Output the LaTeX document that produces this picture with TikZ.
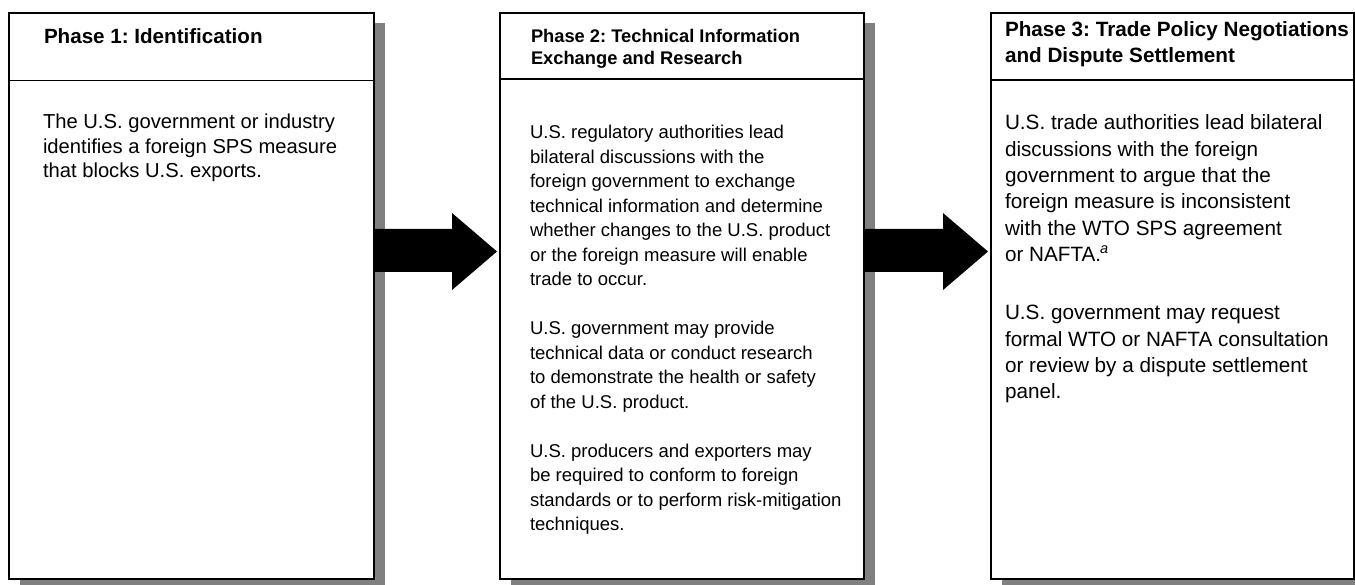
\documentclass[tikz,border=0pt]{standalone}
\usepackage{fontspec}
\setmainfont{Liberation Sans}
\usetikzlibrary{shadows,calc}
\definecolor{shadowgray}{RGB}{128,128,128}
\frenchspacing
\tikzset{
  phasebox/.style={draw=black, line width=1.8pt, fill=white, inner sep=0pt, outer sep=0pt,
    drop shadow={shadow xshift=11pt, shadow yshift=-10pt, fill=shadowgray, opacity=1}},
  divider/.style={draw=black, line width=1.6pt},
  txt/.style={anchor=base west, inner sep=0pt, outer sep=0pt, text=black},
  blockarrow/.style={fill=black, draw=none}
}
\newcommand{\mylines}[3]{\parbox[t]{400pt}{\fontsize{#1}{#2}\selectfont\raggedright\frenchspacing #3}}
\begin{document}
\begin{tikzpicture}[x=1pt, y=-1pt]
\useasboundingbox (0,0) rectangle (1355,585);
% boxes
\node[phasebox, minimum width=365pt, minimum height=566pt] (b1) at (191.5,296) {};
\node[phasebox, minimum width=364pt, minimum height=566pt] (b2) at (682,296) {};
\node[phasebox, minimum width=363pt, minimum height=566pt] (b3) at (1172.5,296) {};
% dividers
\draw[divider] (b1.west |- 0,80.5) -- (b1.east |- 0,80.5);
\draw[divider] (b2.west |- 0,79) -- (b2.east |- 0,79);
\draw[divider] (b3.west |- 0,80) -- (b3.east |- 0,80);
% arrows
\fill[blockarrow] (b1.east |- 0,229) -- (452,229) -- (452,213) -- ($(b2.west |- 0,251.5)+(-3,0)$) -- (452,290) -- (452,272) -- (b1.east |- 0,272) -- cycle;
\fill[blockarrow] (b2.east |- 0,229) -- (943,229) -- (943,213) -- ($(b3.west |- 0,251.5)+(-3,0)$) -- (943,290) -- (943,272) -- (b2.east |- 0,272) -- cycle;
% headings
\node[txt] (h1) at (44,44) {\mylines{20.6}{26}{\bfseries Phase 1: Identification}};
\node[txt] (h2) at (531,42.7) {\mylines{18.3}{22.3}{\bfseries Phase 2: Technical Information\\Exchange and Research}};
\node[txt] (h3) at (1005,37) {\mylines{20.7}{26}{\bfseries Phase 3: Trade Policy Negotiations\\and Dispute Settlement}};
% bodies
\node[txt] (p1) at (43,129) {\mylines{20.2}{24.5}{The U.S. government or industry\\
identifies a foreign SPS measure\\
that blocks U.S. exports.}};
\node[txt] (p2) at (530,139) {\mylines{18.5}{24.5}{U.S. regulatory authorities lead\\
bilateral discussions with the\\
foreign government to exchange\\
technical information and determine\\
whether changes to the U.S. product\\
or the foreign measure will enable\\
trade to occur.\\[24.5pt]
U.S. government may provide\\
technical data or conduct research\\
to demonstrate the health or safety\\
of the U.S. product.\\[24.5pt]
U.S. producers and exporters may\\
be required to conform to foreign\\
standards or to perform risk-mitigation\\
techniques.}};
\node[txt] (p3) at (1005,130) {\mylines{20.7}{26.3}{U.S. trade authorities lead bilateral\\
discussions with the foreign\\
government to argue that the\\
foreign measure is inconsistent\\
with the WTO SPS agreement\\
or NAFTA.\kern-1pt\textsuperscript{\itshape a}\\[32pt]
U.S. government may request\\
formal WTO or NAFTA consultation\\
or review by a dispute settlement\\
panel.}};
\end{tikzpicture}
\end{document}
